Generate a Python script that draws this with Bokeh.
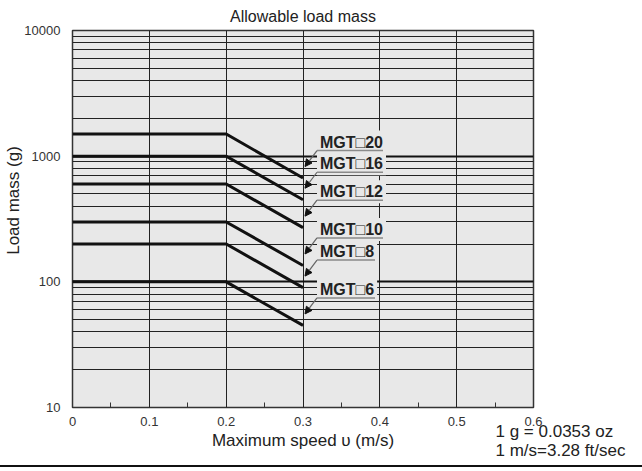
import math
from bokeh.plotting import figure
from bokeh.models import (Range1d, FixedTicker, PrintfTickFormatter, Label, Arrow,
                          NormalHead, ColumnDataSource)
from bokeh.embed import file_html
from bokeh.resources import INLINE

# ---- data ----
speeds = [0.0, 0.2, 0.3]                      # m/s: flat up to 0.2, then falling to 0.3
models = ["MGT□20", "MGT□16", "MGT□12", "MGT□10", "MGT□8", "MGT□6"]
mass_low_speed = [1500, 1000, 600, 300, 200, 100]   # g, for v <= 0.2 m/s
mass_at_03 = [670, 450, 270, 135, 90, 45]           # g, at v = 0.3 m/s
x_ticks = [0, 0.1, 0.2, 0.3, 0.4, 0.5, 0.6]
x_minor = [0.05, 0.15, 0.25, 0.35, 0.45, 0.55]
y_ticks = [10, 100, 1000, 10000]
y_minor = [d * k for d in (10, 100, 1000) for k in range(2, 10)]

FONT = "Liberation Sans"
BG = "#e8e8e8"
INK = "#222222"
W, H = 642, 467
FL, FT, FW, FH = 72, 30, 461, 377
FR = W - FL - FW
PX_X = FW / 0.6          # px per m/s
PX_DEC = FH / 3.0        # px per decade


def right(x, px):
    return x + px / PX_X


def up(m, px):
    return m * 10 ** (px / PX_DEC)


p = figure(width=W, height=H, x_range=Range1d(0, 0.6), y_range=Range1d(10, 10000),
           y_axis_type="log", output_backend="svg", toolbar_location=None,
           min_border_left=FL, min_border_top=FT,
           min_border_right=FR, min_border_bottom=H - FT - FH)
p.background_fill_color = BG
p.border_fill_color = "white"
p.outline_line_color = "#333333"
p.outline_line_width = 1.5
p.styles = {"border-bottom": "2px solid #111111"}

p.title.text = "Allowable load mass"
p.title.align = "center"
p.title.text_font = FONT
p.title.text_font_size = "16px"
p.title.text_font_style = "normal"
p.title.text_color = INK
p.title.standoff = 11

xt = FixedTicker(ticks=x_ticks, minor_ticks=x_minor)
yt = FixedTicker(ticks=y_ticks, minor_ticks=y_minor)
p.xaxis.ticker = xt
p.yaxis.ticker = yt
p.xgrid.ticker = xt
p.ygrid.ticker = yt
p.yaxis.formatter = PrintfTickFormatter(format="%d")

p.xgrid.grid_line_color = "#222222"
p.xgrid.grid_line_width = 1
p.ygrid.grid_line_color = "#111111"
p.ygrid.grid_line_width = 2
p.ygrid.minor_grid_line_color = "#222222"
p.ygrid.minor_grid_line_width = 1

for ax in (p.xaxis, p.yaxis):
    ax.axis_line_color = None
    ax.major_tick_line_color = None
    ax.major_label_text_font = FONT
    ax.major_label_text_font_size = "13px"
    ax.major_label_text_color = "#333333"
    ax.axis_label_text_font = FONT
    ax.axis_label_text_font_style = "normal"
    ax.axis_label_text_color = INK
p.yaxis.minor_tick_line_color = None
p.xaxis.minor_tick_in = 5
p.xaxis.minor_tick_out = 0
p.xaxis.minor_tick_line_color = "#333333"
p.xaxis.major_label_standoff = 3
p.yaxis.major_label_standoff = 6
p.xaxis.axis_label = "Maximum speed υ (m/s)"
p.xaxis.axis_label_text_font_size = "17px"
p.xaxis.axis_label_standoff = 2

# y-axis title as a rotated label in its own left panel (centred where the reference has it)
p.add_layout(Label(x=11, y=FH - (200 - FT), x_units="screen", y_units="screen",
                   text="Load mass (g)", text_font=FONT, text_font_size="17px",
                   text_color=INK, text_align="center", text_baseline="middle",
                   angle=math.pi / 2), "left")

# ---- load curves ----
src = ColumnDataSource(dict(
    xs=[list(speeds) for _ in models],
    ys=[[m0, m0, m1] for m0, m1 in zip(mass_low_speed, mass_at_03)],
))
p.multi_line(xs="xs", ys="ys", source=src, line_width=3, line_color="#111111",
             line_join="miter")

# ---- callout labels ----
ul_x0, ul_x1, ul_y = [], [], []
for name, m1 in zip(models, mass_at_03):
    tx = right(0.3, 14)
    lab = Label(x=tx, y=up(m1, 36), text=name, text_font=FONT, text_font_style="bold",
                text_font_size="16px", text_color=INK, text_align="left",
                text_baseline="middle", background_fill_color=BG, padding=3)
    p.add_layout(lab)
    ul_x0.append(tx)
    ul_x1.append(right(tx, 66 if len(name) > 5 else 58))
    ul_y.append(up(m1, 27.5))

p.segment(x0=ul_x0, y0=ul_y, x1=ul_x1, y1=ul_y, line_color="#8a8a8a", line_width=1.5,
          level="overlay")

for m1, x0, y0 in zip(mass_at_03, ul_x0, ul_y):
    p.add_layout(Arrow(end=NormalHead(size=7, fill_color="#111111", line_color="#111111"),
                       x_start=x0, y_start=y0, x_end=right(0.3, 2), y_end=up(m1, 11.5),
                       line_color="#666666", line_width=1.2))

# ---- unit notes (two lines, stacked upward so the panel takes no height) ----
notes = ["1 g = 0.0353 oz", "1 m/s=3.28 ft/sec"]
p.add_layout(Label(x=495 - FL, y=12, x_units="screen", y_units="screen",
                   text="\n".join(reversed(notes)), text_font=FONT, text_font_size="17px",
                   text_color=INK, text_align="left", text_baseline="top",
                   text_line_height=-1), "below")

open("out.html", "w").write(file_html(p, INLINE))
